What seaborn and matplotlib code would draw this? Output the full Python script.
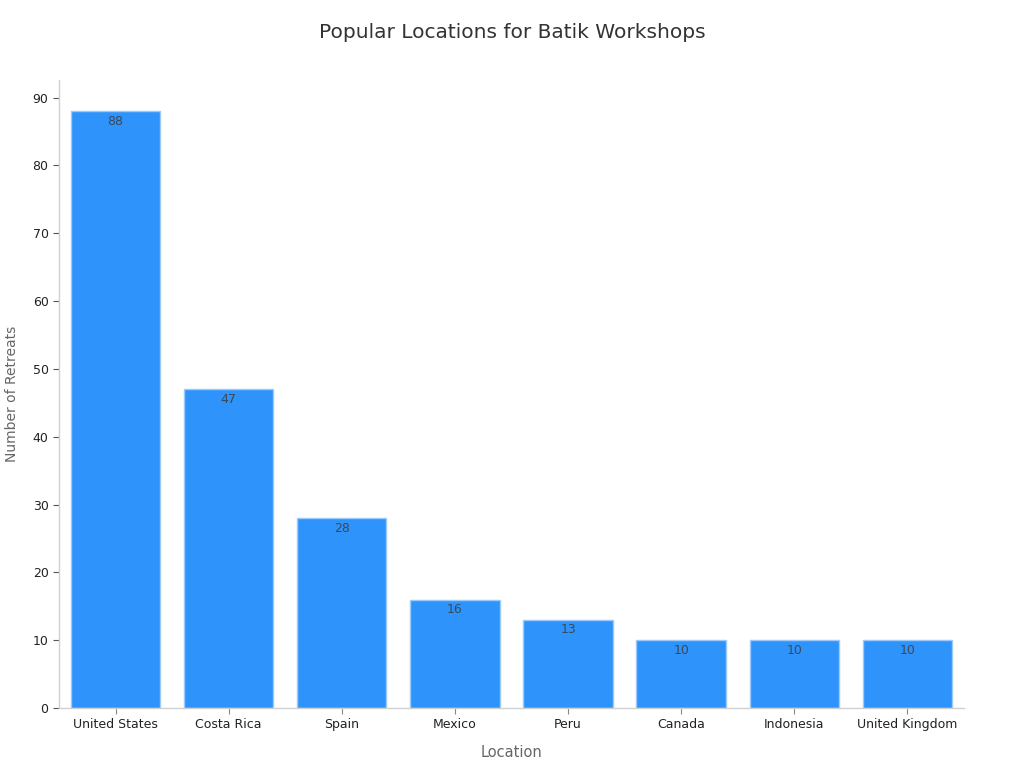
import matplotlib
matplotlib.use("Agg")
import matplotlib.pyplot as plt
import pandas as pd
import seaborn as sns

# Data
locations = ["United States", "Costa Rica", "Spain", "Mexico", "Peru",
             "Canada", "Indonesia", "United Kingdom"]
retreats = [88, 47, 28, 16, 13, 10, 10, 10]

df = pd.DataFrame({"Location": locations, "Retreats": retreats})

sns.set_style("white")
plt.rcParams['font.family'] = ['DejaVu Sans']

fig = plt.figure(figsize=(10.24, 7.68), dpi=100)
ax = fig.add_axes([0.0576, 0.0781, 0.8838, 0.8177])

sns.barplot(
    data=df,
    x="Location",
    y="Retreats",
    color="#2E93FA",
    saturation=1,
    width=0.79,
    edgecolor="#9CCBFB",
    linewidth=1,
    ax=ax,
)

# value labels just inside the top of each bar
for patch, val in zip(ax.patches, retreats):
    ax.annotate(
        str(val),
        (patch.get_x() + patch.get_width() / 2, patch.get_height()),
        xytext=(0, -2.5), textcoords="offset points",
        ha="center", va="top", fontsize=9, color="#3a4a5a",
    )

ax.set_xlim(-0.5, 7.5)
ax.set_ylim(0, 92.6)
ax.set_yticks(range(0, 91, 10))

fig.suptitle("Popular Locations for Batik Workshops", fontsize=14.5,
             color="#333333", y=0.97)
ax.set_xlabel("Location", fontsize=10.5, color="#666666", labelpad=10)
ax.set_ylabel("Number of Retreats", fontsize=10, color="#666666", labelpad=10)

ax.tick_params(axis="both", labelsize=9, colors="#222222")
ax.tick_params(axis="y", left=True, length=4, width=0.8, color="#555555")
ax.tick_params(axis="x", bottom=True, length=4, width=0.8, color="#888888")

for side in ["top", "right"]:
    ax.spines[side].set_visible(False)
for side in ["left", "bottom"]:
    ax.spines[side].set_color("#d0d0d0")
    ax.spines[side].set_linewidth(1)

fig.savefig("out.png", dpi=100)
